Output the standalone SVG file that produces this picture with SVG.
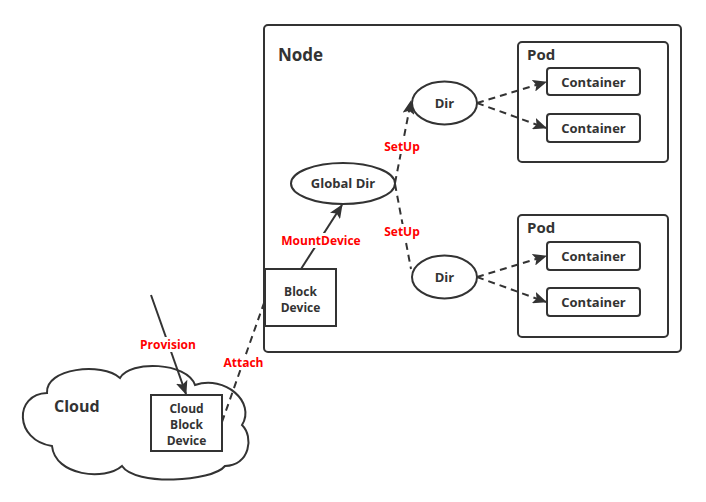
<svg xmlns="http://www.w3.org/2000/svg" width="706" height="502" viewBox="0 0 706 502">
<defs>
<style>
.box{fill:#fff;stroke:#333;stroke-width:2}
.t{font-family:"Open Sans","Noto Sans",sans-serif;font-weight:bold;fill:#333;text-anchor:middle}
.s12{font-size:13px}
.s11{font-size:12px}
.lbl{font-family:"Open Sans","Noto Sans",sans-serif;font-weight:bold;font-size:12px;fill:#ff0000;text-anchor:middle}
.ln{fill:none;stroke:#333;stroke-width:2}
.dash{stroke-dasharray:7,5}
</style>
<marker id="ah" markerUnits="userSpaceOnUse" markerWidth="14" markerHeight="12" refX="13" refY="6" orient="auto">
<path d="M0,0 L14,6 L0,12 L3,6 Z" fill="#333"/>
</marker>
</defs>
<rect width="706" height="502" fill="#fff"/>
<g id="node">
<rect class="box" x="264" y="25" width="417" height="327" rx="4"/>
<text class="t" x="278" y="61" font-size="17" style="text-anchor:start">Node</text>
</g>
<g id="pod1">
<rect class="box" x="518" y="42" width="150" height="120" rx="4"/>
<text class="t" x="527" y="60" font-size="15" style="text-anchor:start">Pod</text>
</g>
<g id="pod2">
<rect class="box" x="518" y="215" width="150" height="122" rx="4"/>
<text class="t" x="527" y="233" font-size="15" style="text-anchor:start">Pod</text>
</g>
<g id="container1">
<rect class="box" x="547" y="68" width="93" height="27" rx="3"/>
<text class="t s12" x="593.5" y="86.5">Container</text>
</g>
<g id="container2">
<rect class="box" x="547" y="114" width="93" height="28" rx="3"/>
<text class="t s12" x="593.5" y="132.5">Container</text>
</g>
<g id="container3">
<rect class="box" x="547" y="242" width="93" height="28" rx="3"/>
<text class="t s12" x="593.5" y="260.5">Container</text>
</g>
<g id="container4">
<rect class="box" x="547" y="288" width="93" height="28" rx="3"/>
<text class="t s12" x="593.5" y="306.5">Container</text>
</g>
<g id="dir1">
<ellipse class="box" cx="444.5" cy="103" rx="32.5" ry="21.5"/>
<text class="t s12" x="444.5" y="107.5">Dir</text>
</g>
<g id="dir2">
<ellipse class="box" cx="444.5" cy="277" rx="32.5" ry="21.5"/>
<text class="t s12" x="444.5" y="281.5">Dir</text>
</g>
<g id="globaldir">
<ellipse class="box" cx="343" cy="183.5" rx="52" ry="20.5"/>
<text class="t s12" x="343" y="188">Global Dir</text>
</g>
<g id="blockdevice">
<rect class="box" x="265" y="269" width="71" height="57"/>
<text class="t s11" x="300.5" y="296">Block</text>
<text class="t s11" x="300.5" y="312">Device</text>
</g>
<g id="cloud">
<path class="box" d="M47,393 C45,368 102,362 120,378 C130,360 187,362 195,385 C225,375 256,402 242,425 C254,437 250,465 225,466 C212,482 135,486 122,466 C105,481 55,476 52,446 C14,440 14,394 47,393 Z"/>
<text class="t" x="54" y="412" font-size="16" style="text-anchor:start">Cloud</text>
</g>
<g id="cloudblockdevice">
<rect class="box" x="151" y="395" width="71" height="56"/>
<text class="t s11" x="186.5" y="413">Cloud</text>
<text class="t s11" x="186.5" y="429">Block</text>
<text class="t s11" x="186.5" y="445">Device</text>
</g>
<g id="connectors">
<line class="ln" x1="151" y1="295" x2="186" y2="394" marker-end="url(#ah)"/>
<line class="ln dash" x1="222" y1="422" x2="264" y2="303"/>
<line class="ln" x1="301" y1="269" x2="342" y2="205" marker-end="url(#ah)"/>
<line class="ln dash" x1="395" y1="183" x2="411" y2="101" marker-end="url(#ah)"/>
<line class="ln dash" x1="395" y1="184" x2="411" y2="269"/>
<line class="ln dash" x1="477" y1="103" x2="546" y2="82" marker-end="url(#ah)"/>
<line class="ln dash" x1="477" y1="103" x2="546" y2="128" marker-end="url(#ah)"/>
<line class="ln dash" x1="477" y1="277" x2="546" y2="256" marker-end="url(#ah)"/>
<line class="ln dash" x1="477" y1="277" x2="546" y2="302" marker-end="url(#ah)"/>
</g>
<g id="labels">
<rect x="382" y="139" width="40" height="15" fill="#fff"/>
<text class="lbl" x="402" y="151">SetUp</text>
<rect x="381" y="224" width="42" height="15" fill="#fff"/>
<text class="lbl" x="402" y="236">SetUp</text>
<rect x="280" y="233" width="82" height="15" fill="#fff"/>
<text class="lbl" x="321" y="245">MountDevice</text>
<rect x="139" y="337" width="58" height="15" fill="#fff"/>
<text class="lbl" x="168" y="349">Provision</text>
<rect x="223" y="355" width="41" height="15" fill="#fff"/>
<text class="lbl" x="243.5" y="367">Attach</text>
</g>
</svg>
